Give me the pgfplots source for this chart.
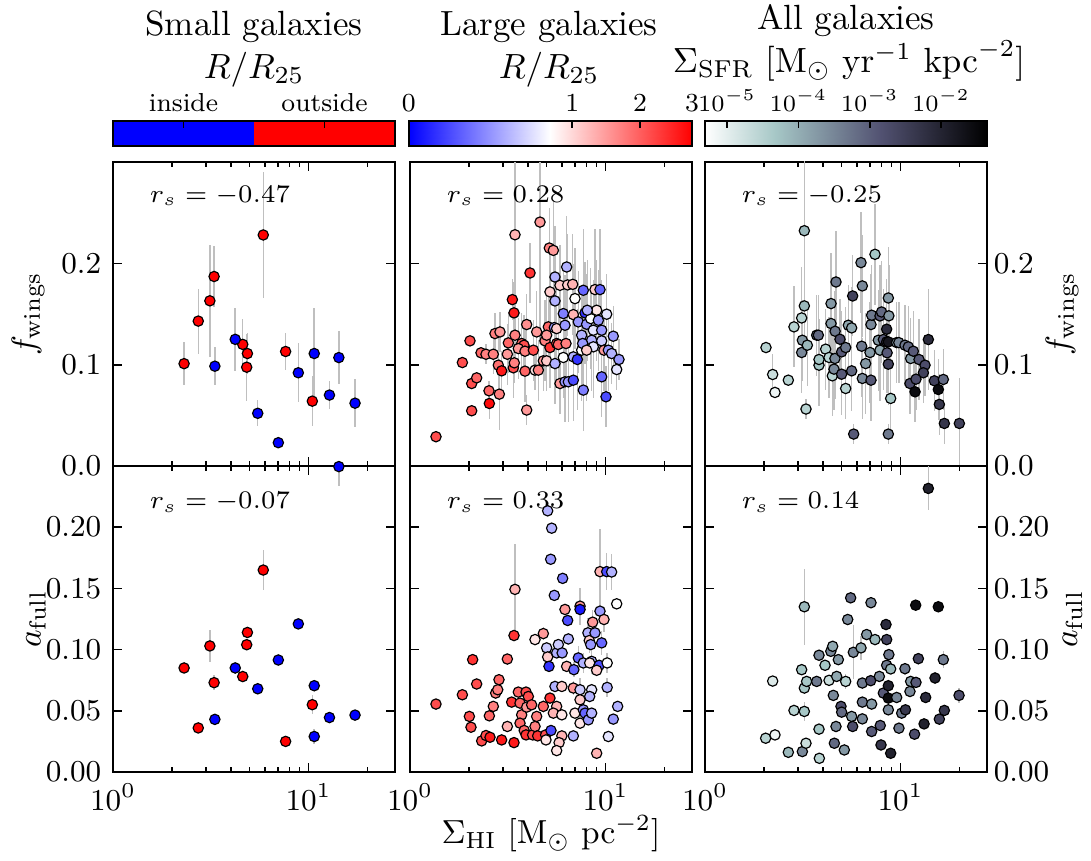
\RequirePackage{fix-cm}
\documentclass[border=0pt]{standalone}
\usepackage{pgfplots}
\usepackage{pgfplotstable}
\pgfplotsset{compat=1.18}

% ---- data: x = Sigma_HI, y = value, c = colour position, e = error ----
\pgfplotstableread{
x y e
3.32 0.0985 0.019
4.22 0.125 0.031
5.50 0.052 0.013
7.01 0.023 0.003
8.87 0.092 0.029
10.7 0.111 0.045
12.8 0.070 0.014
14.3 0.107 0.026
17.3 0.062 0.024
}\smallTopIn
\pgfplotstableread{
x y e
2.31 0.101 0.021
2.73 0.143 0.032
3.13 0.163 0.055
3.29 0.187 0.03
4.61 0.120 0.025
4.87 0.111 0.020
4.83 0.0975 0.033
5.87 0.228 0.062
7.64 0.113 0.018
10.46 0.064 0.025
}\smallTopOut
\pgfplotstableread{
x y e
3.32 0.043 0.004
4.22 0.085 0.005
5.50 0.068 0.003
7.01 0.0915 0.004
8.87 0.121 0.003
10.7 0.0705 0.004
10.7 0.029 0.006
12.8 0.0445 0.003
14.3 0.2495 0.016
17.3 0.0465 0.003
}\smallBotIn
\pgfplotstableread{
x y e
2.31 0.085 0.004
2.73 0.036 0.003
3.13 0.103 0.013
3.29 0.073 0.006
4.61 0.078 0.004
4.87 0.114 0.004
4.83 0.104 0.004
5.87 0.165 0.016
7.64 0.025 0.003
10.46 0.055 0.008
}\smallBotOut
\pgfplotstableread{
x y c e
1.358 0.0289 0.85 0
1.853 0.1021 0.85 0
2.027 0.1235 0.85 0
2.068 0.0814 0.85 0
2.193 0.0870 0.80 0
2.068 0.0545 0.85 0
2.308 0.1117 0.80 0
2.447 0.1103 0.75 0.010
2.668 0.1103 0.75 0.020
2.536 0.0742 0.80 0.010
2.546 0.0617 0.98 0.015
2.864 0.0709 0.75 0.035
2.830 0.0995 0.78 0.030
2.943 0.0939 0.95 0.020
2.721 0.1307 0.75 0.020
2.886 0.1323 0.70 0.020
3.184 0.1215 0.80 0.030
3.147 0.1103 0.70 0.030
3.444 0.1291 0.75 0.030
3.378 0.0969 0.85 0.030
3.417 0.1018 0.75 0.020
3.404 0.1511 0.95 0.030
3.338 0.1642 0.95 0.020
3.444 0.2282 0.65 0.130
3.953 0.1396 0.72 0.030
3.875 0.0936 0.80 0.030
3.953 0.0552 0.70 0.015
4.111 0.1905 0.90 0.030
3.726 0.1209 0.80 0.030
3.830 0.1192 0.85 0.030
3.582 0.1159 0.70 0.030
3.875 0.1133 0.75 0.030
4.275 0.1143 0.85 0.030
4.446 0.1323 0.70 0.040
4.360 0.0946 0.55 0.020
4.624 0.2407 0.70 0.120
4.903 0.1235 0.75 0.040
5.100 0.1373 0.80 0.040
5.200 0.1169 0.90 0.040
5.000 0.1291 0.70 0.040
4.808 0.1038 0.70 0.030
4.533 0.0946 0.75 0.030
5.160 0.2151 0.75 0.040
5.410 0.2128 0.70 0.050
5.000 0.1038 0.60 0.030
5.473 0.1366 0.30 0.040
5.516 0.1011 0.35 0.040
5.626 0.1209 0.85 0.040
5.737 0.1199 0.80 0.040
6.085 0.1071 0.50 0.040
5.626 0.1356 0.60 0.040
5.516 0.1629 0.35 0.040
5.200 0.1718 0.60 0.040
5.516 0.1865 0.35 0.050
5.851 0.1783 0.60 0.040
6.405 0.1787 0.60 0.050
6.794 0.1793 0.65 0.050
6.330 0.1964 0.35 0.050
6.280 0.1209 0.75 0.040
6.085 0.1504 0.25 0.050
6.206 0.1389 0.30 0.050
5.851 0.0814 0.70 0.030
6.206 0.0831 0.30 0.040
6.455 0.0831 0.30 0.040
6.847 0.0847 0.15 0.040
7.702 0.0749 0.25 0.040
6.847 0.1077 0.35 0.050
6.982 0.1652 0.50 0.050
6.847 0.1494 0.65 0.050
7.261 0.1422 0.30 0.050
7.552 0.1291 0.35 0.050
7.177 0.1051 0.10 0.050
7.552 0.1143 0.50 0.050
7.702 0.1734 0.20 0.060
7.855 0.1511 0.10 0.050
8.007 0.1399 0.30 0.050
8.398 0.1455 0.50 0.050
8.665 0.1340 0.45 0.050
9.012 0.1537 0.55 0.050
8.837 0.1741 0.60 0.060
9.373 0.1741 0.20 0.060
8.496 0.1241 0.35 0.050
9.191 0.1438 0.30 0.050
9.559 0.1235 0.40 0.050
9.559 0.1340 0.30 0.050
9.824 0.1143 0.70 0.040
10.14 0.1498 0.45 0.040
9.559 0.0880 0.20 0.040
10.06 0.0683 0.15 0.030
10.34 0.1143 0.30 0.040
10.75 0.1110 0.35 0.030
10.96 0.1281 0.30 0.030
11.41 0.0952 0.45 0.020
11.72 0.1051 0.30 0.020
8.070 0.1537 0.35 0.050
7.641 0.1209 0.30 0.050
8.665 0.1176 0.45 0.050
8.007 0.1143 0.60 0.050
}\largeTop
\pgfplotstableread{
x y c e
1.358 0.0555 0.85 0
1.853 0.0631 0.85 0.004
2.092 0.0918 0.90 0
2.193 0.0719 0.85 0
2.012 0.0454 0.85 0
2.051 0.0366 0.85 0
2.326 0.0254 0.85 0
2.447 0.0298 0.85 0
2.566 0.0284 0.95 0
2.546 0.0459 0.80 0
2.668 0.0536 0.75 0
2.743 0.0645 0.75 0
2.852 0.0754 0.80 0
2.810 0.0672 0.75 0
2.943 0.0262 0.95 0
3.147 0.0923 0.80 0
3.147 0.0372 0.65 0
3.311 0.0571 0.90 0
3.404 0.0240 0.95 0
3.404 0.1115 0.90 0
3.444 0.1492 0.65 0.037
3.582 0.0653 0.80 0
3.654 0.0563 0.80 0
3.726 0.0467 0.75 0
3.654 0.0399 0.80 0
3.840 0.0339 0.80 0
3.922 0.0653 0.85 0
3.953 0.0530 0.70 0
3.922 0.0303 0.90 0
4.030 0.0617 0.85 0
4.190 0.0549 0.80 0
4.240 0.0303 0.85 0
4.360 0.1082 0.55 0.004
4.360 0.0372 0.75 0
4.446 0.0454 0.75 0
4.498 0.0295 0.90 0
4.808 0.1131 0.70 0.005
4.808 0.0536 0.80 0.005
4.940 0.0303 0.85 0
5.000 0.1014 0.40 0
4.960 0.0262 0.55 0
5.060 0.0940 0.60 0
5.200 0.0604 0.90 0
5.140 0.0863 0.10 0
5.262 0.0339 0.15 0
5.626 0.0536 0.65 0
5.410 0.0481 0.65 0
5.516 0.0699 0.35 0
5.626 0.0973 0.35 0
5.737 0.1041 0.40 0
5.473 0.1443 0.30 0
5.243 0.1738 0.30 0
5.305 0.1992 0.35 0
5.060 0.2134 0.35 0
6.037 0.1582 0.25 0
6.206 0.1328 0.70 0
6.405 0.1238 0.15 0
6.000 0.0973 0.30 0
6.455 0.1087 0.35 0
6.330 0.0863 0.65 0
5.980 0.0699 0.60 0
5.980 0.0467 0.55 0
5.980 0.0295 0.65 0
5.790 0.0240 0.60 0
5.626 0.0175 0.55 0
6.980 0.0481 0.55 0
6.847 0.0686 0.70 0.006
6.890 0.0836 0.20 0.006
7.410 0.1355 0.70 0.015
7.410 0.1328 0.05 0
7.261 0.0932 0.20 0.010
7.702 0.0891 0.35 0.008
7.410 0.0672 0.40 0.010
7.410 0.0590 0.60 0
6.847 0.0295 0.35 0
7.410 0.0399 0.55 0
7.702 0.0508 0.30 0
7.855 0.0481 0.20 0
8.170 0.0426 0.30 0
8.496 0.0481 0.35 0
8.130 0.1137 0.35 0.012
8.260 0.1074 0.60 0.010
8.398 0.1041 0.30 0
8.600 0.1224 0.70 0.010
8.837 0.1137 0.30 0
8.496 0.0904 0.35 0.010
8.496 0.0672 0.45 0
8.300 0.0617 0.35 0
8.300 0.0891 0.55 0
9.373 0.1314 0.30 0.008
9.824 0.1246 0.65 0.010
9.559 0.1055 0.20 0.010
9.280 0.0872 0.15 0
9.012 0.0831 0.60 0
10.20 0.0891 0.50 0.008
10.20 0.0691 0.35 0.008
10.34 0.0290 0.45 0
10.96 0.0432 0.30 0
11.54 0.0536 0.35 0
9.012 0.0153 0.65 0
9.373 0.1637 0.65 0.035
10.14 0.1637 0.15 0.015
10.75 0.1634 0.35 0.015
11.41 0.1374 0.50 0
}\largeBot
\pgfplotstableread{
x y c e
3.222 0.2322 0.30 0.080
2.051 0.1169 0.20 0
2.219 0.0903 0.15 0.020
2.280 0.0726 0.05 0
2.668 0.0847 0.20 0
2.852 0.1373 0.20 0.040
3.122 0.1461 0.20 0.050
3.222 0.1580 0.30 0.050
3.147 0.1241 0.40 0.040
3.122 0.1120 0.45 0.040
3.338 0.1192 0.30 0.040
3.286 0.0562 0.20 0.010
3.726 0.1291 0.50 0.040
3.800 0.1291 0.55 0.040
3.830 0.0995 0.25 0.040
3.830 0.1051 0.25 0.040
4.142 0.1153 0.20 0.040
4.310 0.1071 0.20 0.040
4.480 0.0890 0.20 0.040
4.569 0.0956 0.45 0.040
4.620 0.1061 0.45 0.040
4.412 0.1406 0.40 0.050
4.412 0.1603 0.40 0.050
4.678 0.1816 0.50 0.050
4.630 0.1330 0.50 0.040
4.903 0.1251 0.65 0.040
5.000 0.1126 0.60 0.040
5.243 0.1169 0.50 0.040
5.000 0.0906 0.60 0.040
5.243 0.0765 0.20 0.030
5.410 0.1389 0.35 0.040
5.626 0.1363 0.35 0.040
5.626 0.0939 0.55 0.040
5.693 0.1678 0.70 0.040
5.761 0.0315 0.60 0.010
6.280 0.2007 0.45 0.050
6.380 0.1777 0.45 0.050
6.330 0.1182 0.50 0.050
6.380 0.0864 0.45 0.040
6.634 0.1011 0.40 0.050
6.982 0.1120 0.40 0.050
7.064 0.0847 0.60 0.040
7.064 0.1396 0.45 0.050
7.119 0.1488 0.50 0.050
7.407 0.2089 0.25 0.050
7.855 0.1481 0.60 0.050
8.000 0.1520 0.55 0.050
7.700 0.1241 0.40 0.050
7.855 0.1143 0.35 0.050
8.170 0.1248 0.60 0.050
8.496 0.1225 0.75 0.050
8.496 0.1350 0.80 0.050
8.540 0.1117 0.60 0.040
8.665 0.1005 0.70 0.040
8.665 0.1658 0.40 0.050
8.720 0.1482 0.40 0.050
8.665 0.0315 0.50 0.010
8.665 0.1225 0.90 0.040
8.907 0.0667 0.25 0.040
9.559 0.1218 0.40 0.040
9.800 0.1218 0.45 0.040
10.54 0.1192 0.50 0.040
10.96 0.1176 0.55 0.040
11.27 0.1061 0.40 0.040
11.63 0.1133 0.60 0.040
12.44 0.1051 0.60 0.040
13.35 0.0995 0.65 0.030
13.09 0.0920 0.70 0.030
13.88 0.1248 0.80 0.050
11.18 0.0814 0.65 0.030
11.87 0.0732 0.95 0.030
12.00 0.0857 0.65 0.030
14.90 0.0841 0.70 0.030
15.61 0.0755 0.95 0.030
16.56 0.0854 0.55 0.030
15.80 0.0608 0.75 0.030
16.76 0.0420 0.75 0.020
20.00 0.0420 0.70 0.045
}\allTop
\pgfplotstableread{
x y c e
13.88 0.2317 0.85 0.018
3.222 0.1350 0.30 0.031
2.219 0.0743 0.10 0
2.043 0.0276 0.20 0
2.280 0.0303 0.05 0
2.668 0.0161 0.30 0
2.852 0.0503 0.20 0
3.122 0.0836 0.25 0
3.222 0.0686 0.25 0.005
3.310 0.0740 0.25 0
3.222 0.0495 0.25 0.008
3.147 0.0167 0.45 0
3.286 0.0235 0.15 0
3.726 0.0740 0.50 0
3.830 0.0954 0.45 0
3.830 0.0350 0.25 0
3.845 0.0112 0.20 0
4.111 0.0872 0.25 0
4.310 0.0749 0.15 0
4.400 0.0986 0.45 0
4.498 0.1027 0.35 0
4.715 0.0781 0.35 0
4.808 0.0918 0.40 0
4.533 0.0626 0.45 0
5.243 0.0740 0.20 0.006
4.961 0.0536 0.65 0
5.000 0.0489 0.55 0
4.678 0.0372 0.45 0
4.588 0.0235 0.55 0
5.160 0.0180 0.40 0
5.370 0.1246 0.45 0
5.560 0.1423 0.55 0
5.737 0.0978 0.45 0.022
5.626 0.0454 0.40 0
5.693 0.0372 0.65 0
6.280 0.1014 0.35 0.010
6.380 0.0727 0.50 0
6.380 0.0434 0.45 0
6.380 0.0571 0.50 0
6.713 0.1123 0.40 0
7.064 0.1383 0.45 0
7.040 0.0746 0.65 0
7.120 0.0555 0.40 0
7.120 0.0331 0.60 0
7.407 0.1082 0.30 0
7.795 0.0781 0.45 0
7.880 0.0380 0.60 0
7.950 0.0221 0.75 0
8.170 0.0645 0.60 0
8.430 0.1205 0.80 0
8.496 0.1082 0.70 0
8.496 0.0872 0.50 0
8.665 0.0705 0.85 0
8.665 0.0604 0.95 0
8.665 0.0508 0.45 0
8.720 0.0959 0.50 0
8.907 0.0842 0.30 0
8.907 0.0153 0.85 0
9.559 0.0609 0.45 0
9.820 0.0358 0.50 0
10.14 0.0481 0.50 0
10.60 0.0508 0.75 0
10.54 0.0844 0.50 0.005
11.18 0.0658 0.45 0
11.27 0.0740 0.40 0
12.00 0.0732 0.60 0
11.80 0.0309 0.65 0
11.96 0.1363 0.95 0
12.34 0.0926 0.70 0.005
13.45 0.0609 0.80 0
13.20 0.0393 0.85 0
15.02 0.0768 0.85 0.005
15.61 0.1350 0.95 0
15.80 0.0432 0.70 0
16.76 0.0503 0.75 0
16.56 0.0918 0.50 0.007
19.93 0.0626 0.65 0.006
}\allBot

\pgfplotsset{
  colormap={bwr}{rgb(0cm)=(0,0,1); rgb(1cm)=(1,1,1); rgb(2cm)=(1,0,0)},
  colormap={boner}{rgb(0cm)=(1,1,1); rgb(2cm)=(0.652,0.782,0.778); rgb(5cm)=(0.319,0.319,0.444); rgb(8cm)=(0,0,0)},
  every axis/.append style={scale only axis, anchor=south west,
    axis line style={line width=0.6pt},
    major tick style={black, line width=0.5pt},
    minor tick style={black, line width=0.5pt},
    tick label style={font=\fontsize{9.1}{10}\selectfont},
    label style={font=\fontsize{10}{12}\selectfont}},
}

\begin{document}
\begin{tikzpicture}[x=1pt, y=1pt]
\useasboundingbox (0,0) rectangle (327.3,258);

% ---------- colour bars ----------
\begin{axis}[at={(33.9pt,214.2pt)}, width=84.6pt, height=7.5pt,
  xmin=0, xmax=1, ymin=0, ymax=1, ytick=\empty, axis on top,
  xtick pos=right, xticklabel pos=right, major tick length=2.2pt,
  xticklabel style={font=\fontsize{7.8}{9}\selectfont, anchor=base, inner sep=0pt, yshift=3pt},
  xtick={0.25,0.75}, xticklabels={inside,outside}]
\addplot[fill=blue, draw=none] coordinates {(0,1) (0.5,1)} \closedcycle;
\addplot[fill=red, draw=none] coordinates {(0.5,1) (1,1)} \closedcycle;
\end{axis}

\begin{axis}[at={(122.6pt,214.2pt)}, width=85pt, height=7.5pt,
  xmin=0, xmax=1, ymin=0, ymax=1, ytick=\empty, axis on top, colormap name=bwr,
  xtick pos=right, xticklabel pos=right, major tick length=2.2pt,
  xticklabel style={font=\fontsize{7.8}{9}\selectfont, anchor=base, inner sep=0pt, yshift=3pt},
  xtick={0,0.57735,0.8165,1}, xticklabels={0,1,2,3}]
\addplot[surf, shader=interp, point meta=x, mesh/cols=5] coordinates {
  (0,0) (0.25,0) (0.5,0) (0.75,0) (1,0)
  (0,1) (0.25,1) (0.5,1) (0.75,1) (1,1)};
\end{axis}

\begin{axis}[at={(211.5pt,214.2pt)}, width=84.6pt, height=7.5pt,
  xmin=-5.309, xmax=-1.355, ymin=0, ymax=1, ytick=\empty, axis on top, colormap name=boner,
  xtick pos=right, xticklabel pos=right, major tick length=2.2pt,
  xticklabel style={font=\fontsize{7}{8}\selectfont, anchor=base, inner sep=0pt, yshift=3pt},
  xtick={-5,-4,-3,-2}, xticklabels={$10^{-5}$,$10^{-4}$,$10^{-3}$,$10^{-2}$}]
\addplot[surf, shader=interp, point meta=x, mesh/cols=4] coordinates {
  (-5.309,0) (-4.3205,0) (-2.8378,0) (-1.355,0)
  (-5.309,1) (-4.3205,1) (-2.8378,1) (-1.355,1)};
\end{axis}

% ---------- top row: f_wings ----------
\begin{axis}[at={(33.9pt,118.2pt)}, width=84.6pt, height=91.2pt,
  xmode=log, xmin=1, xmax=27.7, ymin=0, ymax=0.3, ytick={0,0.1,0.2},
  xtick={1,10}, minor xtick={2,3,4,5,6,7,8,9,20},
  major tick length=2.6pt, minor tick length=1.5pt, xticklabels={},
  yticklabel style={/pgf/number format/fixed, /pgf/number format/fixed zerofill, /pgf/number format/precision=1},
  ylabel={$f_{\mathrm{wings}}$},
  ylabel style={at={([xshift=-20.4pt]axis description cs:0,0.5)}, anchor=south, inner sep=0pt}]
\addplot[draw=none, forget plot, error bars/.cd, y dir=both, y explicit, error mark=none,
  error bar style={draw=gray!50, line width=0.45pt}] table[x=x, y=y, y error=e] {\smallTopOut};
\addplot[draw=none, forget plot, error bars/.cd, y dir=both, y explicit, error mark=none,
  error bar style={draw=gray!50, line width=0.45pt}] table[x=x, y=y, y error=e] {\smallTopIn};
\addplot[only marks, mark=*, mark size=1.55pt, mark options={fill=red, draw=black, line width=0.35pt}] table[x=x, y=y] {\smallTopOut};
\addplot[only marks, mark=*, mark size=1.55pt, mark options={fill=blue, draw=black, line width=0.35pt}] table[x=x, y=y] {\smallTopIn};
\node[anchor=base west, font=\fontsize{7.6}{9}\selectfont] at (rel axis cs:0.089,0.868) {$r_s = -0.47$};
\end{axis}

\begin{axis}[at={(123pt,118.2pt)}, width=84.6pt, height=91.2pt,
  xmode=log, xmin=1, xmax=27.7, ymin=0, ymax=0.3, ytick={0,0.1,0.2},
  xtick={1,10}, minor xtick={2,3,4,5,6,7,8,9,20},
  major tick length=2.6pt, minor tick length=1.5pt, xticklabels={}, yticklabels={},
  colormap name=bwr, point meta min=0, point meta max=1]
\addplot[draw=none, forget plot, error bars/.cd, y dir=both, y explicit, error mark=none,
  error bar style={draw=gray!50, line width=0.45pt}] table[x=x, y=y, y error=e] {\largeTop};
\addplot[scatter, only marks, mark=*, mark size=1.55pt, scatter src=explicit,
  scatter/use mapped color={draw=black, fill=mapped color}, mark options={line width=0.35pt}]
  table[x=x, y=y, meta=c] {\largeTop};
\node[anchor=base west, font=\fontsize{7.6}{9}\selectfont] at (rel axis cs:0.089,0.868) {$r_s = 0.28$};
\end{axis}

\begin{axis}[at={(211.5pt,118.2pt)}, width=84.6pt, height=91.2pt,
  xmode=log, xmin=1, xmax=27.7, ymin=0, ymax=0.3, ytick={0,0.1,0.2},
  xtick={1,10}, minor xtick={2,3,4,5,6,7,8,9,20},
  major tick length=2.6pt, minor tick length=1.5pt, xticklabels={},
  yticklabel pos=right,
  yticklabel style={xshift=-1.5pt, /pgf/number format/fixed, /pgf/number format/fixed zerofill, /pgf/number format/precision=1},
  ylabel={$f_{\mathrm{wings}}$},
  ylabel style={at={([xshift=17.4pt]axis description cs:1,0.5)}, anchor=north, inner sep=0pt},
  colormap name=boner, point meta min=0, point meta max=1]
\addplot[draw=none, forget plot, error bars/.cd, y dir=both, y explicit, error mark=none,
  error bar style={draw=gray!50, line width=0.45pt}] table[x=x, y=y, y error=e] {\allTop};
\addplot[scatter, only marks, mark=*, mark size=1.55pt, scatter src=explicit,
  scatter/use mapped color={draw=black, fill=mapped color}, mark options={line width=0.35pt}]
  table[x=x, y=y, meta=c] {\allTop};
\node[anchor=base west, font=\fontsize{7.6}{9}\selectfont] at (rel axis cs:0.089,0.868) {$r_s = -0.25$};
\end{axis}

% ---------- bottom row: a_full ----------
\begin{axis}[at={(33.9pt,26.4pt)}, width=84.6pt, height=91.8pt,
  xmode=log, xmin=1, xmax=27.7, ymin=0, ymax=0.25, ytick={0,0.05,0.1,0.15,0.2},
  xtick={1,10}, minor xtick={2,3,4,5,6,7,8,9,20},
  major tick length=2.6pt, minor tick length=1.5pt,
  yticklabel style={/pgf/number format/fixed, /pgf/number format/fixed zerofill, /pgf/number format/precision=2},
  ylabel={$a_{\mathrm{full}}$},
  ylabel style={at={([xshift=-20pt]axis description cs:0,0.5)}, anchor=south, inner sep=0pt}]
\addplot[draw=none, forget plot, error bars/.cd, y dir=both, y explicit, error mark=none,
  error bar style={draw=gray!50, line width=0.45pt}] table[x=x, y=y, y error=e] {\smallBotOut};
\addplot[draw=none, forget plot, error bars/.cd, y dir=both, y explicit, error mark=none,
  error bar style={draw=gray!50, line width=0.45pt}] table[x=x, y=y, y error=e] {\smallBotIn};
\addplot[only marks, mark=*, mark size=1.55pt, mark options={fill=red, draw=black, line width=0.35pt}] table[x=x, y=y] {\smallBotOut};
\addplot[only marks, mark=*, mark size=1.55pt, mark options={fill=blue, draw=black, line width=0.35pt}] table[x=x, y=y] {\smallBotIn};
\node[anchor=base west, font=\fontsize{7.6}{9}\selectfont] at (rel axis cs:0.089,0.86) {$r_s = -0.07$};
\end{axis}

\begin{axis}[at={(123pt,26.4pt)}, width=84.6pt, height=91.8pt,
  xmode=log, xmin=1, xmax=27.7, ymin=0, ymax=0.25, ytick={0,0.05,0.1,0.15,0.2},
  xtick={1,10}, minor xtick={2,3,4,5,6,7,8,9,20},
  major tick length=2.6pt, minor tick length=1.5pt, yticklabels={},
  colormap name=bwr, point meta min=0, point meta max=1,
  xlabel={$\Sigma_{\mathrm{HI}}\ [\mathrm{M}_{\odot}\ \mathrm{pc}^{-2}]$},
  xlabel style={at={(axis description cs:0.5,0)}, anchor=base, yshift=-21.3pt}]
\addplot[draw=none, forget plot, error bars/.cd, y dir=both, y explicit, error mark=none,
  error bar style={draw=gray!50, line width=0.45pt}] table[x=x, y=y, y error=e] {\largeBot};
\addplot[scatter, only marks, mark=*, mark size=1.55pt, scatter src=explicit,
  scatter/use mapped color={draw=black, fill=mapped color}, mark options={line width=0.35pt}]
  table[x=x, y=y, meta=c] {\largeBot};
\node[anchor=base west, font=\fontsize{7.6}{9}\selectfont] at (rel axis cs:0.089,0.86) {$r_s = 0.33$};
\end{axis}

\begin{axis}[at={(211.5pt,26.4pt)}, width=84.6pt, height=91.8pt,
  xmode=log, xmin=1, xmax=27.7, ymin=0, ymax=0.25, ytick={0,0.05,0.1,0.15,0.2},
  xtick={1,10}, minor xtick={2,3,4,5,6,7,8,9,20},
  major tick length=2.6pt, minor tick length=1.5pt,
  yticklabel pos=right,
  yticklabel style={xshift=-1.5pt, /pgf/number format/fixed, /pgf/number format/fixed zerofill, /pgf/number format/precision=2},
  ylabel={$a_{\mathrm{full}}$},
  ylabel style={at={([xshift=22.5pt]axis description cs:1,0.5)}, anchor=north, inner sep=0pt},
  colormap name=boner, point meta min=0, point meta max=1]
\addplot[draw=none, forget plot, error bars/.cd, y dir=both, y explicit, error mark=none,
  error bar style={draw=gray!50, line width=0.45pt}] table[x=x, y=y, y error=e] {\allBot};
\addplot[scatter, only marks, mark=*, mark size=1.55pt, scatter src=explicit,
  scatter/use mapped color={draw=black, fill=mapped color}, mark options={line width=0.35pt}]
  table[x=x, y=y, meta=c] {\allBot};
\node[anchor=base west, font=\fontsize{7.6}{9}\selectfont] at (rel axis cs:0.089,0.86) {$r_s = 0.14$};
\end{axis}

% ---------- titles ----------
\begin{scope}[every node/.style={anchor=base, inner sep=0pt, font=\fontsize{10.5}{12.6}\selectfont}]
\node at (76.2,247.5) {Small galaxies};
\node at (76.2,234.6) {$R/R_{25}$};
\node at (164.7,247.5) {Large galaxies};
\node at (164.7,234.6) {$R/R_{25}$};
\node at (253.8,249.3) {All galaxies};
\node at (254.7,236.4) {$\Sigma_{\mathrm{SFR}}\ [\mathrm{M}_{\odot}\ \mathrm{yr}^{-1}\ \mathrm{kpc}^{-2}]$};
\end{scope}
\end{tikzpicture}
\end{document}
